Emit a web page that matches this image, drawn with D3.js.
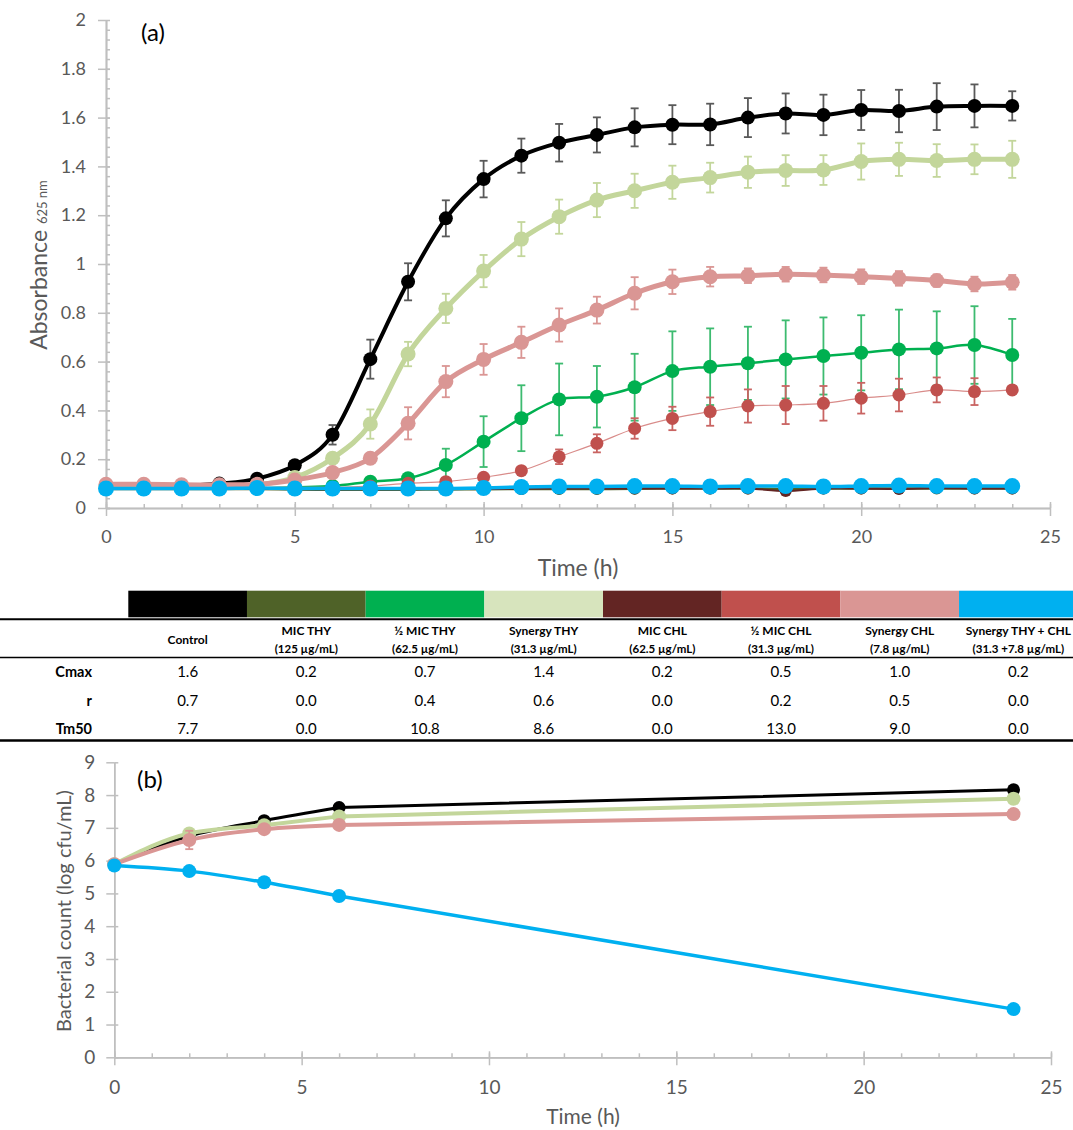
<!DOCTYPE html>
<html>
<head>
<meta charset="utf-8">
<script src="https://cdn.jsdelivr.net/npm/d3@7"></script>
<style>
  body { margin: 0; background: #fff; }
  svg { display: block; }
  text { font-family: Lato, "Open Sans", sans-serif; }
</style>
</head>
<body>
<svg id="fig" width="1073" height="1130"></svg>
<script>
// ---- data: panel (a), absorbance every hour ----
const hours = [0,1,2,3,4,5,6,7,8,9,10,11,12,13,14,15,16,17,18,19,20,21,22,23,24];

const control    = [0.09,0.09,0.09,0.10,0.12,0.175,0.30,0.61,0.927,1.187,1.348,1.444,1.497,1.529,1.56,1.571,1.572,1.60,1.617,1.611,1.631,1.627,1.645,1.648,1.648];
const controlErr = [0.005,0.005,0.005,0.005,0.01,0.01,0.04,0.08,0.076,0.074,0.075,0.07,0.077,0.072,0.078,0.08,0.085,0.08,0.082,0.083,0.082,0.087,0.096,0.088,0.06];

const micThy     = [0.078,0.078,0.078,0.078,0.078,0.076,0.075,0.075,0.075,0.076,0.077,0.078,0.078,0.078,0.079,0.08,0.08,0.08,0.078,0.08,0.08,0.08,0.08,0.08,0.08];

const halfThy    = [0.08,0.08,0.08,0.08,0.08,0.085,0.09,0.108,0.122,0.176,0.272,0.368,0.445,0.456,0.495,0.561,0.579,0.593,0.609,0.623,0.636,0.65,0.654,0.668,0.627];
const halfThyErr = [0,0,0,0,0,0.005,0.005,0.01,0.015,0.067,0.104,0.135,0.147,0.126,0.137,0.163,0.157,0.15,0.16,0.158,0.154,0.163,0.152,0.159,0.148];

const synThy     = [0.09,0.09,0.09,0.09,0.095,0.125,0.204,0.344,0.631,0.818,0.971,1.102,1.194,1.262,1.30,1.335,1.354,1.376,1.383,1.385,1.42,1.429,1.424,1.429,1.429];
const synThyErr  = [0,0,0,0,0.005,0.01,0.02,0.06,0.05,0.06,0.066,0.07,0.07,0.07,0.07,0.068,0.061,0.064,0.063,0.061,0.074,0.068,0.067,0.061,0.076];

const micChl     = [0.08,0.08,0.08,0.08,0.08,0.078,0.077,0.077,0.077,0.078,0.078,0.079,0.08,0.08,0.08,0.08,0.08,0.08,0.07,0.08,0.08,0.078,0.082,0.08,0.08];

const halfChl    = [0.085,0.085,0.085,0.085,0.085,0.085,0.085,0.09,0.101,0.108,0.126,0.153,0.21,0.265,0.326,0.367,0.395,0.418,0.422,0.429,0.45,0.463,0.484,0.477,0.484];
const halfChlErr = [0,0,0,0,0,0,0,0.005,0.005,0.01,0.01,0.01,0.03,0.037,0.042,0.048,0.058,0.068,0.078,0.071,0.063,0.067,0.051,0.055,0];

const synChl     = [0.097,0.097,0.095,0.095,0.097,0.115,0.145,0.204,0.347,0.518,0.609,0.679,0.75,0.811,0.88,0.927,0.948,0.952,0.958,0.955,0.948,0.941,0.932,0.918,0.925];
const synChlErr  = [0,0,0,0,0,0.005,0.01,0.015,0.066,0.064,0.063,0.064,0.068,0.055,0.066,0.05,0.04,0.03,0.03,0.03,0.03,0.03,0.025,0.03,0.03];

const synBoth    = [0.08,0.08,0.08,0.08,0.082,0.08,0.08,0.08,0.08,0.08,0.082,0.086,0.088,0.088,0.09,0.09,0.088,0.09,0.09,0.088,0.09,0.092,0.09,0.09,0.09];

// ---- data: table ----
const colNames = ['Control', 'MIC THY', '\u00BD  MIC THY', 'Synergy THY', 'MIC CHL', '\u00BD MIC CHL', 'Synergy CHL', 'Synergy THY + CHL'];
const colDoses = ['', '(125 \u00B5g/mL)', '(62.5 \u00B5g/mL)', '(31.3 \u00B5g/mL)', '(62.5 \u00B5g/mL)', '(31.3 \u00B5g/mL)', '(7.8 \u00B5g/mL)', '(31.3 +7.8 \u00B5g/mL)'];
const rowNames = ['Cmax', 'r', 'Tm50'];
const cmaxVals = ['1.6', '0.2', '0.7', '1.4', '0.2', '0.5', '1.0', '0.2'];
const rVals    = ['0.7', '0.0', '0.4', '0.6', '0.0', '0.2', '0.5', '0.0'];
const tm50Vals = ['7.7', '0.0', '10.8', '8.6', '0.0', '13.0', '9.0', '0.0'];

// ---- data: panel (b), log cfu/mL ----
const timeB      = [0, 2, 4, 6, 24];
const controlB   = [5.89, 6.75, 7.22, 7.62, 8.16];
const controlBErr= [0.03, 0.05, 0.05, 0.05, 0.05];
const synThyB    = [5.89, 6.83, 7.08, 7.35, 7.89];
const synThyBErr = [0.03, 0.05, 0.05, 0.05, 0.05];
const synChlB    = [5.89, 6.63, 6.96, 7.09, 7.42];
const synChlBErr = [0.03, 0.28, 0.1, 0.05, 0.05];
const synBothB   = [5.85, 5.68, 5.34, 4.92, 1.47];
const synBothBErr= [0.03, 0.05, 0.05, 0.05, 0.05];

const C = {
  black: '#000000', olive: '#4f6228', green: '#00b050', light: '#c3d69b',
  brown: '#632523', red: '#c0504d', pink: '#da9694', blue: '#00b0f0',
  swatchLight: '#d7e4bd'
};

const svg = d3.select('#fig');
const axisGray = '#bfbfbf';
const labelGray = '#595959';

function drawAxes(x, y, o) {
  const g = svg.append('g');
  const y0 = y.range()[0], x0 = x.range()[0];

  g.append('g').attr('transform', `translate(0,${y0})`)
    .call(d3.axisTop(x).tickValues(o.xMinor).tickSize(4).tickSizeOuter(0).tickFormat(''));
  g.append('g').attr('transform', `translate(0,${y0})`)
    .call(d3.axisTop(x).tickValues(o.xMajor).tickSize(6).tickSizeOuter(0).tickFormat(''));
  g.append('g').attr('transform', `translate(0,${y0})`)
    .call(d3.axisBottom(x).tickValues(o.xMajor).tickSize(8).tickSizeOuter(0).tickPadding(o.xPad).tickFormat(d3.format('d')));

  if (o.yMinor) {
    g.append('g').attr('transform', `translate(${x0},0)`)
      .call(d3.axisRight(y).tickValues(o.yMinor).tickSize(4).tickSizeOuter(0).tickFormat(''));
  }
  g.append('g').attr('transform', `translate(${x0},0)`)
    .call(d3.axisRight(y).tickValues(o.yMajor).tickSize(4).tickSizeOuter(0).tickFormat(''));
  g.append('g').attr('transform', `translate(${x0},0)`)
    .call(d3.axisLeft(y).tickValues(o.yMajor).tickSize(8).tickSizeOuter(0).tickPadding(o.yPad).tickFormat(o.yFormat));

  g.selectAll('path.domain').attr('stroke', axisGray).attr('stroke-width', 1.5);
  g.selectAll('line').attr('stroke', axisGray).attr('stroke-width', 1.5);
  g.selectAll('text').attr('fill', labelGray).style('font-size', o.fontSize + 'px')
    .style('font-family', 'Lato, "Open Sans", sans-serif');
}

// smooth through the points; if `straightFrom` is set, the tail from that index on is drawn straight
function drawSeries(x, y, xs, s, curve, straightFrom) {
  const g = svg.append('g');
  const pts = xs.map((t, i) => ({ t, v: s.values[i], e: s.err ? s.err[i] : 0 }));
  const bars = pts.filter(p => p.e > 0);
  const cap = 4;
  const eg = g.append('g').attr('stroke', s.errColor || s.color).attr('stroke-width', s.errWidth || 1.8);
  eg.selectAll('line.v').data(bars).join('line')
    .attr('x1', p => x(p.t)).attr('x2', p => x(p.t))
    .attr('y1', p => y(p.v - p.e)).attr('y2', p => y(p.v + p.e));
  eg.selectAll('line.top').data(bars).join('line')
    .attr('x1', p => x(p.t) - cap).attr('x2', p => x(p.t) + cap)
    .attr('y1', p => y(p.v + p.e)).attr('y2', p => y(p.v + p.e));
  eg.selectAll('line.bot').data(bars).join('line')
    .attr('x1', p => x(p.t) - cap).attr('x2', p => x(p.t) + cap)
    .attr('y1', p => y(p.v - p.e)).attr('y2', p => y(p.v - p.e));

  const smooth = d3.line().x(p => x(p.t)).y(p => y(p.v)).curve(curve);
  const straight = d3.line().x(p => x(p.t)).y(p => y(p.v));
  const parts = straightFrom == null
    ? [smooth(pts)]
    : [smooth(pts.slice(0, straightFrom + 1)), straight(pts.slice(straightFrom))];
  g.selectAll('path').data(parts).join('path').attr('fill', 'none')
    .attr('stroke', s.lineColor || s.color).attr('stroke-width', s.width)
    .attr('stroke-linejoin', 'round').attr('stroke-linecap', 'round').attr('d', d => d);
  g.selectAll('circle').data(pts).join('circle')
    .attr('cx', p => x(p.t)).attr('cy', p => y(p.v)).attr('r', s.r).attr('fill', s.color);
}

// ================= panel (a) =================
const xA = d3.scaleLinear().domain([0, 25]).range([106, 1050]);
const yA = d3.scaleLinear().domain([0, 2]).range([508, 20]);

drawAxes(xA, yA, {
  xMajor: [0, 5, 10, 15, 20, 25],
  xMinor: hours.concat([25]),
  yMajor: [0, 0.2, 0.4, 0.6, 0.8, 1, 1.2, 1.4, 1.6, 1.8, 2],
  yMinor: d3.range(0, 50).map(i => i * 0.04),
  yFormat: d3.format('~g'),
  xPad: 14, yPad: 12, fontSize: 18
});

const seriesA = [
  { values: control, err: controlErr, color: C.black, errColor: '#595959', width: 4, r: 7 },
  { values: micThy, color: C.olive, width: 2.5, r: 6 },
  { values: halfThy, err: halfThyErr, color: C.green, errColor: '#3dbb70', width: 2.5, r: 7 },
  { values: synThy, err: synThyErr, color: C.light, width: 5, r: 7.5 },
  { values: micChl, color: C.brown, width: 2, r: 6 },
  { values: halfChl, err: halfChlErr, color: C.red, lineColor: '#d98c8a', errColor: '#c96462', width: 1.2, r: 6.5 },
  { values: synChl, err: synChlErr, color: C.pink, width: 5, r: 7.5 },
  { values: synBoth, color: C.blue, width: 3.5, r: 8 }
];
seriesA.forEach(s => drawSeries(xA, yA, hours, s, d3.curveCatmullRom.alpha(0)));

svg.append('text').attr('x', 141).attr('y', 41).style('font-size', '24px').attr('fill', '#000').text('(a)');
svg.append('text').attr('x', 578).attr('y', 576).attr('text-anchor', 'middle')
  .style('font-size', '23px').attr('fill', labelGray).text('Time (h)');
const ta = svg.append('text').attr('transform', 'translate(47,265) rotate(-90)')
  .attr('text-anchor', 'middle').attr('fill', labelGray);
ta.append('tspan').style('font-size', '23px').text('Absorbance ');
ta.append('tspan').style('font-size', '13px').text('625 nm');

// ================= table =================
const colX = d3.scaleBand().domain(d3.range(colNames.length)).range([128.3, 1077.7]);
const tbl = svg.append('g');
tbl.selectAll('rect').data(colNames).join('rect')
  .attr('x', (d, i) => colX(i)).attr('y', 590.7)
  .attr('width', colX.bandwidth()).attr('height', 26.6)
  .attr('fill', (d, i) => [C.black, C.olive, C.green, C.swatchLight, C.brown, C.red, C.pink, C.blue][i]);

tbl.append('line').attr('x1', 0).attr('x2', 1073).attr('y1', 619.3).attr('y2', 619.3).attr('stroke', '#000').attr('stroke-width', 2);
tbl.append('line').attr('x1', 0).attr('x2', 1073).attr('y1', 657.5).attr('y2', 657.5).attr('stroke', '#000').attr('stroke-width', 1.6);
tbl.append('line').attr('x1', 0).attr('x2', 1073).attr('y1', 740.5).attr('y2', 740.5).attr('stroke', '#000').attr('stroke-width', 2.6);

colNames.forEach((name, i) => {
  const cx = colX(i) + colX.bandwidth() / 2;
  if (colDoses[i] === '') {
    tbl.append('text').attr('x', cx).attr('y', 643.5).attr('text-anchor', 'middle')
      .style('font-size', '12px').style('font-weight', 700).text(name);
  } else {
    tbl.append('text').attr('x', cx).attr('y', 634.5).attr('text-anchor', 'middle')
      .style('font-size', '12px').style('font-weight', 700).text(name);
    tbl.append('text').attr('x', cx).attr('y', 652.5).attr('text-anchor', 'middle')
      .style('font-size', '11.5px').style('font-weight', 700).text(colDoses[i]);
  }
});

const rowY = [672.3, 700.7, 729];
[cmaxVals, rVals, tm50Vals].forEach((vals, r) => {
  tbl.append('text').attr('x', 92).attr('y', rowY[r] + 5).attr('text-anchor', 'end')
    .style('font-size', '14.5px').style('font-weight', 700).text(rowNames[r]);
  vals.forEach((v, i) => {
    tbl.append('text').attr('x', colX(i) + colX.bandwidth() / 2).attr('y', rowY[r] + 5)
      .attr('text-anchor', 'middle').style('font-size', '15px').text(v);
  });
});

// ================= panel (b) =================
const xB = d3.scaleLinear().domain([0, 25]).range([114.3, 1051]);
const yB = d3.scaleLinear().domain([0, 9]).range([1057.3, 762.3]);

drawAxes(xB, yB, {
  xMajor: [0, 5, 10, 15, 20, 25],
  xMinor: d3.range(0, 26),
  yMajor: [0, 1, 2, 3, 4, 5, 6, 7, 8, 9],
  yFormat: d3.format('d'),
  xPad: 15, yPad: 11, fontSize: 19
});

const seriesB = [
  { values: controlB, err: controlBErr, color: C.black, errColor: '#595959', width: 3, r: 6.5 },
  { values: synThyB, err: synThyBErr, color: C.light, width: 4, r: 7 },
  { values: synChlB, err: synChlBErr, color: C.pink, width: 4, r: 7 },
  { values: synBothB, err: synBothBErr, color: C.blue, width: 3.5, r: 7 }
];
seriesB.forEach(s => drawSeries(xB, yB, timeB, s, d3.curveMonotoneX, 3));

svg.append('text').attr('x', 137).attr('y', 788).style('font-size', '24px').attr('fill', '#000').text('(b)');
svg.append('text').attr('x', 583).attr('y', 1124).attr('text-anchor', 'middle')
  .style('font-size', '21px').attr('fill', labelGray).text('Time (h)');
svg.append('text').attr('transform', 'translate(71,911) rotate(-90)')
  .attr('text-anchor', 'middle').attr('fill', labelGray).style('font-size', '20px')
  .text('Bacterial count (log cfu/mL)');
</script>
</body>
</html>
